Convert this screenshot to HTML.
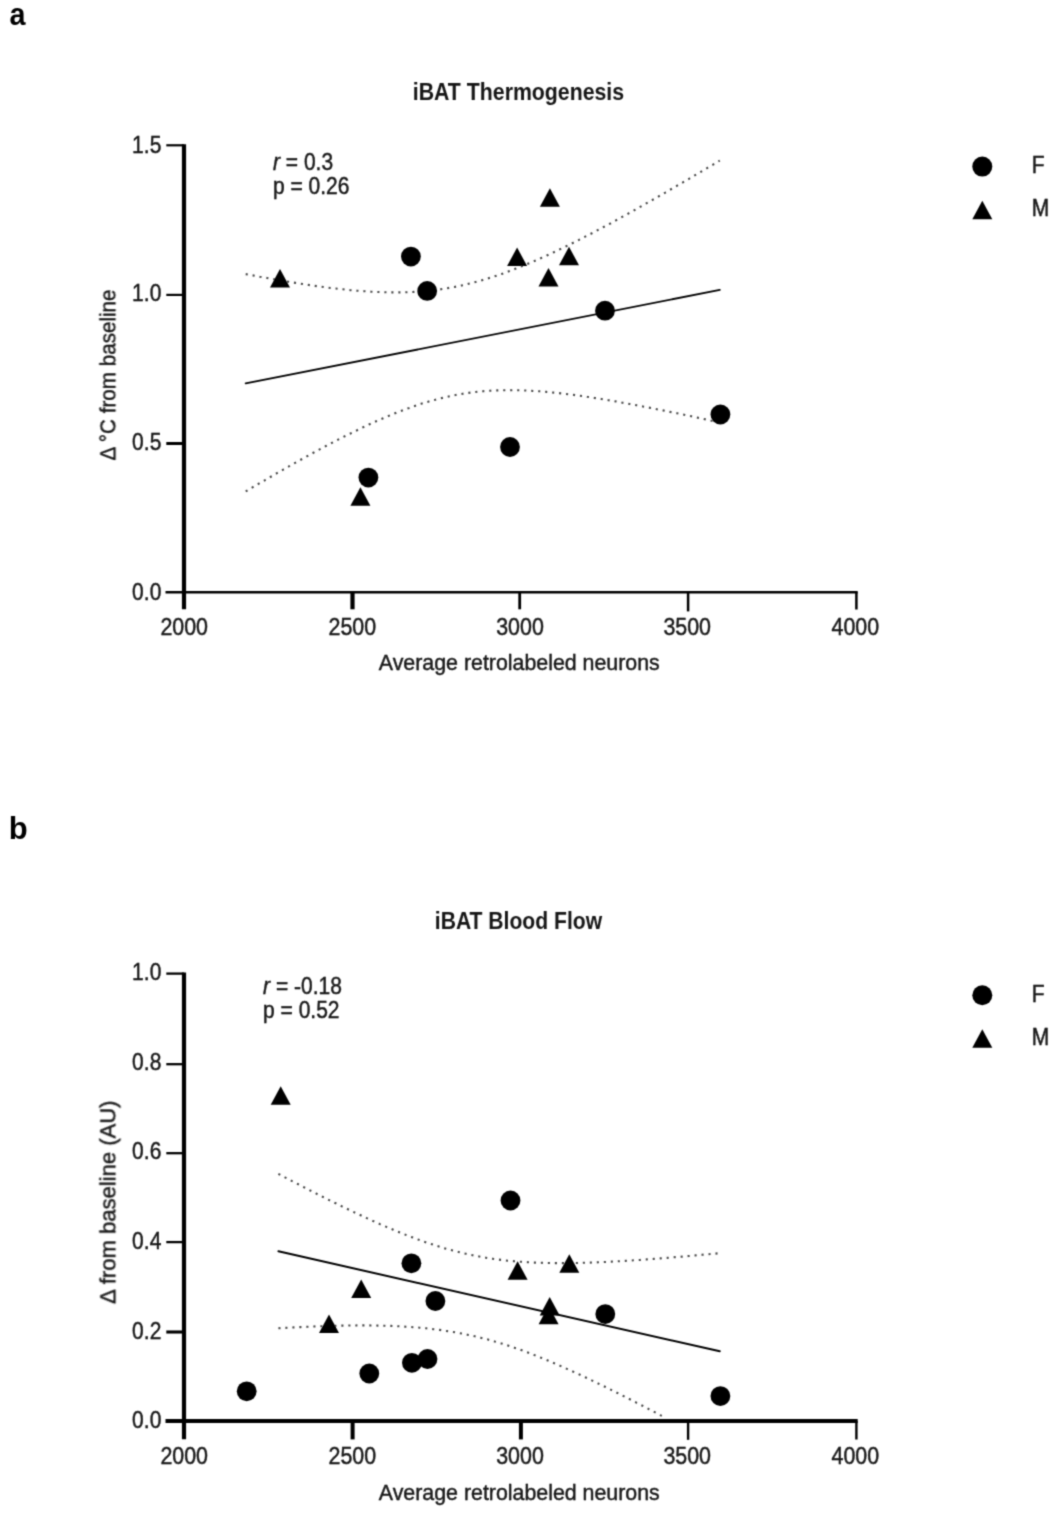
<!DOCTYPE html>
<html><head><meta charset="utf-8"><title>Figure</title>
<style>
html,body{margin:0;padding:0;background:#fff}
svg{display:block}
.t{font-family:"Liberation Sans", Arial, sans-serif;font-size:21px;fill:#161616;stroke:#161616;stroke-width:0.4}
.tb{font-family:"Liberation Sans", Arial, sans-serif;font-size:21px;font-weight:bold;fill:#141414}
.pl{font-family:"Liberation Sans", Arial, sans-serif;font-weight:bold;fill:#000}
.vax{stroke:#000;stroke-width:4.2}
.hax{stroke:#000}
.yt{stroke:#000}
.xt{stroke:#000}
.reg{stroke:#000;stroke-width:1.9;stroke-linecap:round}
.dot{fill:none;stroke:#484848;stroke-width:2.1;stroke-dasharray:2.1 4.9}
</style></head><body>
<svg width="1051" height="1519" viewBox="0 0 1051 1519">
<defs><filter id="bl" x="0" y="0" width="100%" height="100%" filterUnits="userSpaceOnUse"><feConvolveMatrix order="3" divisor="1" edgeMode="none" preserveAlpha="false" kernelMatrix="0.0311 0.1141 0.0311 0.1141 0.4191 0.1141 0.0311 0.1141 0.0311"/></filter></defs>
<rect width="1051" height="1519" fill="#fff"/>
<g filter="url(#bl)">
<text class="pl" font-size="28.8" transform="translate(9.6 24.6) scale(1 1.07)">a</text>
<text class="pl" font-size="31" transform="translate(8.8 839) scale(1 1.04)">b</text>

<line class="vax" x1="184" y1="144.20" x2="184" y2="609.3"/>
<line class="hax" stroke-width="2.5" x1="165.5" y1="592.2" x2="857.7" y2="592.2"/>
<line class="xt" stroke-width="4.2" x1="352.5" y1="592.2" x2="352.5" y2="609.3"/>
<line class="xt" stroke-width="2.8" x1="519.7" y1="592.2" x2="519.7" y2="609.3"/>
<line class="xt" stroke-width="2.5" x1="688.1" y1="592.2" x2="688.1" y2="611.4"/>
<line class="xt" stroke-width="2.5" x1="856.4" y1="592.2" x2="856.4" y2="609.5"/>
<line class="yt" stroke-width="2.2" x1="166.3" y1="145.3" x2="184" y2="145.3"/>
<text class="t" text-anchor="end" transform="translate(161.3 152.6) scale(1 1.1)">1.5</text>
<line class="yt" stroke-width="2.2" x1="166.3" y1="294.9" x2="184" y2="294.9"/>
<text class="t" text-anchor="end" transform="translate(161.3 300.8) scale(1 1.1)">1.0</text>
<line class="yt" stroke-width="3.0" x1="166.3" y1="443.5" x2="184" y2="443.5"/>
<text class="t" text-anchor="end" transform="translate(161.3 450.3) scale(1 1.1)">0.5</text>
<text class="t" text-anchor="end" transform="translate(161.3 599.5) scale(1 1.1)">0.0</text>
<text class="t" text-anchor="middle" textLength="47.6" lengthAdjust="spacingAndGlyphs" transform="translate(184.2 634.7) scale(1 1.1)">2000</text>
<text class="t" text-anchor="middle" textLength="47.6" lengthAdjust="spacingAndGlyphs" transform="translate(352.3 634.7) scale(1 1.1)">2500</text>
<text class="t" text-anchor="middle" textLength="47.6" lengthAdjust="spacingAndGlyphs" transform="translate(520 634.7) scale(1 1.1)">3000</text>
<text class="t" text-anchor="middle" textLength="47.6" lengthAdjust="spacingAndGlyphs" transform="translate(687.2 634.7) scale(1 1.1)">3500</text>
<text class="t" text-anchor="middle" textLength="47.6" lengthAdjust="spacingAndGlyphs" transform="translate(855.3 634.7) scale(1 1.1)">4000</text>
<text class="t" textLength="281" lengthAdjust="spacingAndGlyphs" transform="translate(378.8 670.0) scale(1 1.02)">Average retrolabeled neurons</text>
<text class="tb" textLength="211.3" lengthAdjust="spacingAndGlyphs" transform="translate(412.8 100.0) scale(1 1.1)">iBAT Thermogenesis</text>
<text class="t" text-anchor="middle" textLength="171" lengthAdjust="spacingAndGlyphs" transform="translate(115 375) rotate(-90) scale(1 1.03)">Δ °C from baseline</text>
<text class="t" transform="translate(273 169.9) scale(1 1.1)"><tspan font-style="italic">r</tspan> = 0.3</text>
<text class="t" transform="translate(273 193.8) scale(1 1.1)">p = 0.26</text>
<circle cx="982.3" cy="166.6" r="10.0"/>
<polygon points="982.3,200.8 972.3,219.2 992.3,219.2"/>
<text class="t" transform="translate(1031.8 173.0) scale(1 1.1)">F</text>
<text class="t" transform="translate(1031.8 215.6) scale(1 1.1)">M</text>
<line class="reg" x1="245.7" y1="383.4" x2="719.8" y2="289.9"/>
<polyline class="dot" points="245.7,274.1 248.1,274.5 250.4,275.0 252.8,275.4 255.2,275.9 257.6,276.3 259.9,276.8 262.3,277.2 264.7,277.6 267.0,278.0 269.4,278.5 271.8,278.9 274.1,279.3 276.5,279.7 278.9,280.1 281.3,280.5 283.6,280.9 286.0,281.3 288.4,281.7 290.7,282.1 293.1,282.5 295.5,282.9 297.9,283.3 300.2,283.6 302.6,284.0 305.0,284.4 307.3,284.7 309.7,285.1 312.1,285.4 314.4,285.8 316.8,286.1 319.2,286.4 321.6,286.8 323.9,287.1 326.3,287.4 328.7,287.7 331.0,288.0 333.4,288.3 335.8,288.5 338.1,288.8 340.5,289.1 342.9,289.3 345.3,289.6 347.6,289.8 350.0,290.1 352.4,290.3 354.7,290.5 357.1,290.7 359.5,290.9 361.9,291.1 364.2,291.2 366.6,291.4 369.0,291.6 371.3,291.7 373.7,291.8 376.1,291.9 378.4,292.0 380.8,292.1 383.2,292.2 385.6,292.3 387.9,292.3 390.3,292.4 392.7,292.4 395.0,292.4 397.4,292.4 399.8,292.4 402.2,292.3 404.5,292.3 406.9,292.2 409.3,292.1 411.6,292.0 414.0,291.9 416.4,291.8 418.7,291.6 421.1,291.4 423.5,291.2 425.9,291.0 428.2,290.8 430.6,290.6 433.0,290.3 435.3,290.0 437.7,289.7 440.1,289.4 442.5,289.0 444.8,288.6 447.2,288.3 449.6,287.8 451.9,287.4 454.3,287.0 456.7,286.5 459.0,286.0 461.4,285.5 463.8,285.0 466.2,284.4 468.5,283.8 470.9,283.2 473.3,282.6 475.6,282.0 478.0,281.4 480.4,280.7 482.8,280.0 485.1,279.3 487.5,278.6 489.9,277.8 492.2,277.1 494.6,276.3 497.0,275.5 499.3,274.7 501.7,273.9 504.1,273.1 506.5,272.2 508.8,271.3 511.2,270.4 513.6,269.5 515.9,268.6 518.3,267.7 520.7,266.7 523.0,265.8 525.4,264.8 527.8,263.8 530.2,262.8 532.5,261.8 534.9,260.8 537.3,259.7 539.6,258.7 542.0,257.6 544.4,256.6 546.8,255.5 549.1,254.4 551.5,253.3 553.9,252.2 556.2,251.1 558.6,249.9 561.0,248.8 563.3,247.6 565.7,246.5 568.1,245.3 570.5,244.1 572.8,243.0 575.2,241.8 577.6,240.6 579.9,239.4 582.3,238.2 584.7,236.9 587.1,235.7 589.4,234.5 591.8,233.3 594.2,232.0 596.5,230.8 598.9,229.5 601.3,228.2 603.6,227.0 606.0,225.7 608.4,224.4 610.8,223.2 613.1,221.9 615.5,220.6 617.9,219.3 620.2,218.0 622.6,216.7 625.0,215.4 627.4,214.1 629.7,212.7 632.1,211.4 634.5,210.1 636.8,208.8 639.2,207.4 641.6,206.1 643.9,204.8 646.3,203.4 648.7,202.1 651.1,200.7 653.4,199.4 655.8,198.0 658.2,196.7 660.5,195.3 662.9,193.9 665.3,192.6 667.6,191.2 670.0,189.8 672.4,188.5 674.8,187.1 677.1,185.7 679.5,184.3 681.9,183.0 684.2,181.6 686.6,180.2 689.0,178.8 691.4,177.4 693.7,176.0 696.1,174.6 698.5,173.2 700.8,171.8 703.2,170.4 705.6,169.0 707.9,167.6 710.3,166.2 712.7,164.8 715.1,163.4 717.4,162.0 719.8,160.6"/>
<polyline class="dot" points="245.7,491.4 248.1,490.0 250.4,488.6 252.8,487.2 255.2,485.8 257.6,484.4 259.9,483.0 262.3,481.6 264.7,480.3 267.0,478.9 269.4,477.5 271.8,476.2 274.1,474.8 276.5,473.4 278.9,472.1 281.3,470.7 283.6,469.4 286.0,468.0 288.4,466.7 290.7,465.3 293.1,464.0 295.5,462.7 297.9,461.3 300.2,460.0 302.6,458.7 305.0,457.4 307.3,456.1 309.7,454.8 312.1,453.5 314.4,452.2 316.8,450.9 319.2,449.6 321.6,448.4 323.9,447.1 326.3,445.8 328.7,444.6 331.0,443.3 333.4,442.1 335.8,440.9 338.1,439.6 340.5,438.4 342.9,437.2 345.3,436.0 347.6,434.8 350.0,433.7 352.4,432.5 354.7,431.3 357.1,430.2 359.5,429.0 361.9,427.9 364.2,426.8 366.6,425.6 369.0,424.5 371.3,423.5 373.7,422.4 376.1,421.3 378.4,420.3 380.8,419.2 383.2,418.2 385.6,417.2 387.9,416.2 390.3,415.2 392.7,414.2 395.0,413.3 397.4,412.3 399.8,411.4 402.2,410.5 404.5,409.6 406.9,408.7 409.3,407.9 411.6,407.0 414.0,406.2 416.4,405.4 418.7,404.6 421.1,403.8 423.5,403.1 425.9,402.4 428.2,401.7 430.6,401.0 433.0,400.3 435.3,399.7 437.7,399.0 440.1,398.4 442.5,397.9 444.8,397.3 447.2,396.8 449.6,396.2 451.9,395.7 454.3,395.3 456.7,394.8 459.0,394.4 461.4,394.0 463.8,393.6 466.2,393.2 468.5,392.9 470.9,392.6 473.3,392.3 475.6,392.0 478.0,391.7 480.4,391.5 482.8,391.3 485.1,391.1 487.5,390.9 489.9,390.7 492.2,390.6 494.6,390.5 497.0,390.4 499.3,390.3 501.7,390.2 504.1,390.2 506.5,390.2 508.8,390.1 511.2,390.2 513.6,390.2 515.9,390.2 518.3,390.3 520.7,390.3 523.0,390.4 525.4,390.5 527.8,390.6 530.2,390.7 532.5,390.9 534.9,391.0 537.3,391.2 539.6,391.3 542.0,391.5 544.4,391.7 546.8,391.9 549.1,392.1 551.5,392.4 553.9,392.6 556.2,392.8 558.6,393.1 561.0,393.4 563.3,393.6 565.7,393.9 568.1,394.2 570.5,394.5 572.8,394.8 575.2,395.1 577.6,395.4 579.9,395.8 582.3,396.1 584.7,396.4 587.1,396.8 589.4,397.1 591.8,397.5 594.2,397.9 596.5,398.2 598.9,398.6 601.3,399.0 603.6,399.4 606.0,399.8 608.4,400.2 610.8,400.6 613.1,401.0 615.5,401.4 617.9,401.8 620.2,402.2 622.6,402.7 625.0,403.1 627.4,403.5 629.7,404.0 632.1,404.4 634.5,404.8 636.8,405.3 639.2,405.7 641.6,406.2 643.9,406.7 646.3,407.1 648.7,407.6 651.1,408.0 653.4,408.5 655.8,409.0 658.2,409.5 660.5,409.9 662.9,410.4 665.3,410.9 667.6,411.4 670.0,411.9 672.4,412.4 674.8,412.8 677.1,413.3 679.5,413.8 681.9,414.3 684.2,414.8 686.6,415.3 689.0,415.8 691.4,416.3 693.7,416.9 696.1,417.4 698.5,417.9 700.8,418.4 703.2,418.9 705.6,419.4 707.9,419.9 710.3,420.5 712.7,421.0 715.1,421.5 717.4,422.0 719.8,422.6"/>
<g fill="#000">
<circle cx="410.9" cy="256.6" r="9.9"/>
<circle cx="427.2" cy="290.9" r="9.9"/>
<circle cx="605.0" cy="310.7" r="9.9"/>
<circle cx="720.4" cy="414.5" r="9.9"/>
<circle cx="510.0" cy="447.0" r="9.9"/>
<circle cx="368.4" cy="477.6" r="9.9"/>
<polygon points="280.0,269.1 270.0,287.6 290.0,287.6"/>
<polygon points="549.9,188.2 539.9,206.8 559.9,206.8"/>
<polygon points="517.1,247.6 507.1,266.1 527.1,266.1"/>
<polygon points="569.0,246.8 559.0,265.2 579.0,265.2"/>
<polygon points="548.5,268.1 538.5,286.6 558.5,286.6"/>
<polygon points="360.4,487.2 350.4,505.8 370.4,505.8"/>
</g>
<line class="vax" x1="184" y1="972.45" x2="184" y2="1439.2"/>
<line class="hax" stroke-width="3.8" x1="165.5" y1="1421" x2="857.7" y2="1421"/>
<line class="xt" stroke-width="4.0" x1="352.6" y1="1421" x2="352.6" y2="1439.4"/>
<line class="xt" stroke-width="4.0" x1="520.9" y1="1421" x2="520.9" y2="1439.4"/>
<line class="xt" stroke-width="2.4" x1="688.1" y1="1421" x2="688.1" y2="1439.8"/>
<line class="xt" stroke-width="2.4" x1="856.4" y1="1421" x2="856.4" y2="1439.5"/>
<line class="yt" stroke-width="2.3" x1="166.3" y1="973.6" x2="184" y2="973.6"/>
<text class="t" text-anchor="end" transform="translate(161.3 980.4) scale(1 1.1)">1.0</text>
<line class="yt" stroke-width="2.3" x1="166.3" y1="1064.2" x2="184" y2="1064.2"/>
<text class="t" text-anchor="end" transform="translate(161.3 1070.2) scale(1 1.1)">0.8</text>
<line class="yt" stroke-width="2.3" x1="166.3" y1="1153.2" x2="184" y2="1153.2"/>
<text class="t" text-anchor="end" transform="translate(161.3 1159.4) scale(1 1.1)">0.6</text>
<line class="yt" stroke-width="2.3" x1="166.3" y1="1242.1" x2="184" y2="1242.1"/>
<text class="t" text-anchor="end" transform="translate(161.3 1249.2) scale(1 1.1)">0.4</text>
<line class="yt" stroke-width="3.1" x1="166.3" y1="1332" x2="184" y2="1332"/>
<text class="t" text-anchor="end" transform="translate(161.3 1339.4) scale(1 1.1)">0.2</text>
<text class="t" text-anchor="end" transform="translate(161.3 1428.3) scale(1 1.1)">0.0</text>
<text class="t" text-anchor="middle" textLength="47.6" lengthAdjust="spacingAndGlyphs" transform="translate(184.2 1464.4) scale(1 1.1)">2000</text>
<text class="t" text-anchor="middle" textLength="47.6" lengthAdjust="spacingAndGlyphs" transform="translate(352.3 1464.4) scale(1 1.1)">2500</text>
<text class="t" text-anchor="middle" textLength="47.6" lengthAdjust="spacingAndGlyphs" transform="translate(520 1464.4) scale(1 1.1)">3000</text>
<text class="t" text-anchor="middle" textLength="47.6" lengthAdjust="spacingAndGlyphs" transform="translate(687.2 1464.4) scale(1 1.1)">3500</text>
<text class="t" text-anchor="middle" textLength="47.6" lengthAdjust="spacingAndGlyphs" transform="translate(855.3 1464.4) scale(1 1.1)">4000</text>
<text class="t" textLength="281" lengthAdjust="spacingAndGlyphs" transform="translate(378.8 1500.0) scale(1 1.02)">Average retrolabeled neurons</text>
<text class="tb" textLength="167.3" lengthAdjust="spacingAndGlyphs" transform="translate(434.8 929.1) scale(1 1.1)">iBAT Blood Flow</text>
<text class="t" text-anchor="middle" textLength="203.4" lengthAdjust="spacingAndGlyphs" transform="translate(115 1202.2) rotate(-90) scale(1 1.03)">Δ from baseline (AU)</text>
<text class="t" transform="translate(263.1 993.6) scale(1 1.1)"><tspan font-style="italic">r</tspan> = -0.18</text>
<text class="t" transform="translate(263.1 1018.4) scale(1 1.1)">p = 0.52</text>
<circle cx="982.3" cy="995.3" r="10.0"/>
<polygon points="982.3,1029.2 972.3,1047.8 992.3,1047.8"/>
<text class="t" transform="translate(1031.8 1002.0) scale(1 1.1)">F</text>
<text class="t" transform="translate(1031.8 1045.2) scale(1 1.1)">M</text>
<line class="reg" x1="278.4" y1="1251.3" x2="719.8" y2="1351.3"/>
<polyline class="dot" points="278.4,1173.9 280.6,1175.1 282.8,1176.2 285.0,1177.4 287.2,1178.5 289.4,1179.7 291.6,1180.9 293.8,1182.0 296.1,1183.2 298.3,1184.3 300.5,1185.5 302.7,1186.6 304.9,1187.7 307.1,1188.9 309.3,1190.0 311.5,1191.1 313.7,1192.3 315.9,1193.4 318.1,1194.5 320.3,1195.6 322.5,1196.7 324.7,1197.8 327.0,1199.0 329.2,1200.1 331.4,1201.2 333.6,1202.3 335.8,1203.3 338.0,1204.4 340.2,1205.5 342.4,1206.6 344.6,1207.7 346.8,1208.7 349.0,1209.8 351.2,1210.8 353.4,1211.9 355.6,1212.9 357.9,1214.0 360.1,1215.0 362.3,1216.1 364.5,1217.1 366.7,1218.1 368.9,1219.1 371.1,1220.1 373.3,1221.1 375.5,1222.1 377.7,1223.1 379.9,1224.1 382.1,1225.0 384.3,1226.0 386.5,1226.9 388.8,1227.9 391.0,1228.8 393.2,1229.7 395.4,1230.7 397.6,1231.6 399.8,1232.5 402.0,1233.4 404.2,1234.2 406.4,1235.1 408.6,1236.0 410.8,1236.8 413.0,1237.6 415.2,1238.5 417.4,1239.3 419.6,1240.1 421.9,1240.9 424.1,1241.7 426.3,1242.4 428.5,1243.2 430.7,1243.9 432.9,1244.6 435.1,1245.3 437.3,1246.0 439.5,1246.7 441.7,1247.4 443.9,1248.1 446.1,1248.7 448.3,1249.3 450.5,1249.9 452.8,1250.5 455.0,1251.1 457.2,1251.7 459.4,1252.2 461.6,1252.8 463.8,1253.3 466.0,1253.8 468.2,1254.3 470.4,1254.8 472.6,1255.2 474.8,1255.7 477.0,1256.1 479.2,1256.5 481.4,1256.9 483.7,1257.3 485.9,1257.7 488.1,1258.1 490.3,1258.4 492.5,1258.7 494.7,1259.0 496.9,1259.3 499.1,1259.6 501.3,1259.9 503.5,1260.2 505.7,1260.4 507.9,1260.7 510.1,1260.9 512.3,1261.1 514.5,1261.3 516.8,1261.5 519.0,1261.7 521.2,1261.8 523.4,1262.0 525.6,1262.1 527.8,1262.2 530.0,1262.4 532.2,1262.5 534.4,1262.6 536.6,1262.7 538.8,1262.8 541.0,1262.8 543.2,1262.9 545.4,1262.9 547.7,1263.0 549.9,1263.0 552.1,1263.1 554.3,1263.1 556.5,1263.1 558.7,1263.1 560.9,1263.1 563.1,1263.1 565.3,1263.1 567.5,1263.1 569.7,1263.1 571.9,1263.0 574.1,1263.0 576.3,1263.0 578.6,1262.9 580.8,1262.9 583.0,1262.8 585.2,1262.7 587.4,1262.7 589.6,1262.6 591.8,1262.5 594.0,1262.4 596.2,1262.4 598.4,1262.3 600.6,1262.2 602.8,1262.1 605.0,1262.0 607.2,1261.9 609.5,1261.8 611.7,1261.6 613.9,1261.5 616.1,1261.4 618.3,1261.3 620.5,1261.2 622.7,1261.0 624.9,1260.9 627.1,1260.8 629.3,1260.6 631.5,1260.5 633.7,1260.3 635.9,1260.2 638.1,1260.0 640.3,1259.9 642.6,1259.7 644.8,1259.6 647.0,1259.4 649.2,1259.2 651.4,1259.1 653.6,1258.9 655.8,1258.7 658.0,1258.6 660.2,1258.4 662.4,1258.2 664.6,1258.0 666.8,1257.9 669.0,1257.7 671.2,1257.5 673.5,1257.3 675.7,1257.1 677.9,1257.0 680.1,1256.8 682.3,1256.6 684.5,1256.4 686.7,1256.2 688.9,1256.0 691.1,1255.8 693.3,1255.6 695.5,1255.4 697.7,1255.2 699.9,1255.0 702.1,1254.8 704.4,1254.6 706.6,1254.4 708.8,1254.2 711.0,1254.0 713.2,1253.8 715.4,1253.6 717.6,1253.4 719.8,1253.1"/>
<polyline class="dot" points="278.4,1328.3 280.6,1328.1 282.8,1328.0 285.0,1327.9 287.2,1327.8 289.4,1327.7 291.6,1327.5 293.8,1327.4 296.1,1327.3 298.3,1327.2 300.5,1327.1 302.7,1327.0 304.9,1326.9 307.1,1326.8 309.3,1326.7 311.5,1326.6 313.7,1326.5 315.9,1326.4 318.1,1326.3 320.3,1326.3 322.5,1326.2 324.7,1326.1 327.0,1326.0 329.2,1326.0 331.4,1325.9 333.6,1325.8 335.8,1325.8 338.0,1325.7 340.2,1325.7 342.4,1325.6 344.6,1325.6 346.8,1325.6 349.0,1325.5 351.2,1325.5 353.4,1325.5 355.6,1325.5 357.9,1325.4 360.1,1325.4 362.3,1325.4 364.5,1325.4 366.7,1325.4 368.9,1325.4 371.1,1325.5 373.3,1325.5 375.5,1325.5 377.7,1325.6 379.9,1325.6 382.1,1325.7 384.3,1325.7 386.5,1325.8 388.8,1325.8 391.0,1325.9 393.2,1326.0 395.4,1326.1 397.6,1326.2 399.8,1326.3 402.0,1326.4 404.2,1326.6 406.4,1326.7 408.6,1326.8 410.8,1327.0 413.0,1327.2 415.2,1327.3 417.4,1327.5 419.6,1327.7 421.9,1327.9 424.1,1328.1 426.3,1328.3 428.5,1328.6 430.7,1328.8 432.9,1329.1 435.1,1329.3 437.3,1329.6 439.5,1329.9 441.7,1330.2 443.9,1330.5 446.1,1330.9 448.3,1331.2 450.5,1331.6 452.8,1331.9 455.0,1332.3 457.2,1332.7 459.4,1333.1 461.6,1333.5 463.8,1333.9 466.0,1334.4 468.2,1334.9 470.4,1335.3 472.6,1335.8 474.8,1336.3 477.0,1336.8 479.2,1337.3 481.4,1337.9 483.7,1338.5 485.9,1339.0 488.1,1339.6 490.3,1340.2 492.5,1340.8 494.7,1341.5 496.9,1342.1 499.1,1342.8 501.3,1343.4 503.5,1344.1 505.7,1344.8 507.9,1345.5 510.1,1346.3 512.3,1347.0 514.5,1347.8 516.8,1348.5 519.0,1349.3 521.2,1350.1 523.4,1350.9 525.6,1351.7 527.8,1352.5 530.0,1353.4 532.2,1354.2 534.4,1355.1 536.6,1356.0 538.8,1356.8 541.0,1357.7 543.2,1358.6 545.4,1359.5 547.7,1360.4 549.9,1361.4 552.1,1362.3 554.3,1363.3 556.5,1364.2 558.7,1365.2 560.9,1366.1 563.1,1367.1 565.3,1368.1 567.5,1369.1 569.7,1370.1 571.9,1371.1 574.1,1372.1 576.3,1373.1 578.6,1374.1 580.8,1375.2 583.0,1376.2 585.2,1377.2 587.4,1378.3 589.6,1379.3 591.8,1380.4 594.0,1381.4 596.2,1382.5 598.4,1383.6 600.6,1384.7 602.8,1385.7 605.0,1386.8 607.2,1387.9 609.5,1389.0 611.7,1390.1 613.9,1391.2 616.1,1392.3 618.3,1393.4 620.5,1394.5 622.7,1395.6 624.9,1396.8 627.1,1397.9 629.3,1399.0 631.5,1400.1 633.7,1401.3 635.9,1402.4 638.1,1403.5 640.3,1404.7 642.6,1405.8 644.8,1407.0 647.0,1408.1 649.2,1409.3 651.4,1410.4 653.6,1411.6 655.8,1412.7 658.0,1413.9 660.2,1415.1 662.4,1416.2 664.6,1417.4"/>
<g fill="#000">
<circle cx="510.5" cy="1200.5" r="9.9"/>
<circle cx="411.4" cy="1263.3" r="9.9"/>
<circle cx="435.4" cy="1301.0" r="9.9"/>
<circle cx="605.3" cy="1314.1" r="9.9"/>
<circle cx="720.4" cy="1396.1" r="9.9"/>
<circle cx="246.7" cy="1391.3" r="9.9"/>
<circle cx="369.3" cy="1373.5" r="9.9"/>
<circle cx="411.9" cy="1362.8" r="9.9"/>
<circle cx="427.5" cy="1359.0" r="9.9"/>
<polygon points="280.7,1086.3 270.7,1104.8 290.7,1104.8"/>
<polygon points="361.2,1279.5 351.2,1298.0 371.2,1298.0"/>
<polygon points="329.0,1314.5 319.0,1333.0 339.0,1333.0"/>
<polygon points="517.6,1261.3 507.6,1279.8 527.6,1279.8"/>
<polygon points="569.3,1254.2 559.3,1272.7 579.3,1272.7"/>
<polygon points="549.7,1297.0 539.7,1315.5 559.7,1315.5"/>
<polygon points="548.6,1305.7 538.6,1324.2 558.6,1324.2"/>
</g>
</g></svg></body></html>
